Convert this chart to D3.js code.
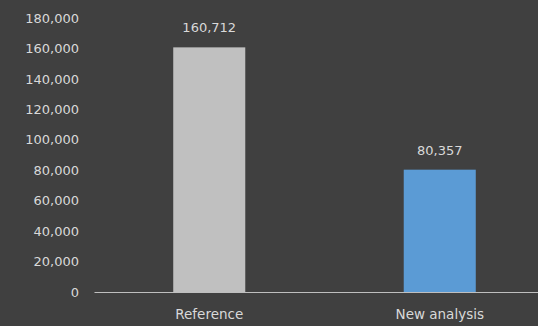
<!DOCTYPE html>
<html>
<head>
<meta charset="utf-8">
<script src="https://cdn.jsdelivr.net/npm/d3@7"></script>
<style>
  html, body { margin: 0; padding: 0; background: #404040; }
  svg { display: block; }
  text { font-family: "DejaVu Sans", sans-serif; fill: #d9d9d9; }
</style>
</head>
<body>
<svg id="chart" width="538" height="326"></svg>
<script>
const categories = ["Reference", "New analysis"];
const values = [160712, 80357];
const barColors = ["#c0c0c0", "#5b9bd5"];
const yTicks = [0, 20000, 40000, 60000, 80000, 100000, 120000, 140000, 160000, 180000];

const W = 538, H = 326;
const margin = { left: 94, right: -17, top: 18, bottom: 34 };

const svg = d3.select("#chart");
svg.append("rect").attr("width", W).attr("height", H).attr("fill", "#404040");

const x = d3.scaleBand()
  .domain(categories)
  .range([margin.left, W - margin.right])
  .paddingInner(0).paddingOuter(0);

const y = d3.scaleLinear()
  .domain([0, 180000])
  .range([H - margin.bottom, margin.top]);

const fmt = d3.format(",");
const barW = x.bandwidth() * 0.3125;

// y axis labels (no axis line, no tick marks)
const yAxis = svg.append("g")
  .attr("transform", `translate(${margin.left},0)`)
  .call(d3.axisLeft(y).tickValues(yTicks).tickFormat(fmt).tickSize(0).tickPadding(15));
yAxis.select(".domain").remove();
yAxis.selectAll("text")
  .attr("font-size", 13)
  .attr("font-family", "DejaVu Sans, sans-serif")
  .attr("fill", "#d9d9d9");

// bars
svg.append("g").selectAll("rect")
  .data(categories)
  .join("rect")
  .attr("x", (d) => x(d) + x.bandwidth() / 2 - barW / 2)
  .attr("width", barW)
  .attr("y", (d, i) => y(values[i]))
  .attr("height", (d, i) => y(0) - y(values[i]))
  .attr("fill", (d, i) => barColors[i]);

// value labels
svg.append("g").selectAll("text")
  .data(categories)
  .join("text")
  .attr("x", (d) => x(d) + x.bandwidth() / 2)
  .attr("y", (d, i) => y(values[i]) - 15)
  .attr("text-anchor", "middle")
  .attr("font-size", 13)
  .text((d, i) => fmt(values[i]));

// category axis
const xAxis = svg.append("g")
  .attr("transform", `translate(0,${y(0)})`)
  .call(d3.axisBottom(x).tickSize(0).tickPadding(17));
xAxis.select(".domain").attr("stroke", "#bfbfbf").attr("stroke-width", 1.2);
xAxis.selectAll("text")
  .attr("font-size", 13.5)
  .attr("font-family", "DejaVu Sans, sans-serif")
  .attr("fill", "#d9d9d9");
</script>
</body>
</html>
